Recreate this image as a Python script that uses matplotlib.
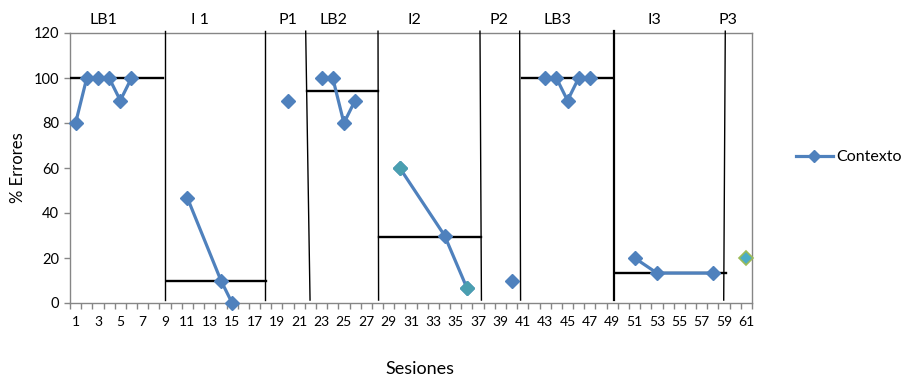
"""Single-subject design chart: % errors per session across phases."""

import matplotlib

matplotlib.use("Agg")
import matplotlib.pyplot as plt
from matplotlib.lines import Line2D

plt.rcParams["font.family"] = ["Lato", "DejaVu Sans"]

# sessions and % errors, one pair of lists per phase
lb1_x = [1, 2, 3, 4, 5, 6]
lb1_y = [80, 100, 100, 100, 90, 100]
i1_x = [11, 14, 15]
i1_y = [46.7, 10, 0]
p1_x = [20]
p1_y = [90]
lb2_x = [23, 24, 25, 26]
lb2_y = [100, 100, 80, 90]
i2_x = [30, 34, 36]
i2_y = [60, 30, 6.7]
p2_x = [40]
p2_y = [10]
lb3_x = [43, 44, 45, 46, 47]
lb3_y = [100, 100, 90, 100, 100]
i3_x = [51, 53, 58]
i3_y = [20, 13.3, 13.3]
p3_x = [61]
p3_y = [20]

phase_names = ["LB1", "I 1", "P1", "LB2", "I2", "P2", "LB3", "I3", "P3"]
phase_label_x = [3.5, 12.1, 20.0, 24.1, 31.3, 38.85, 44.1, 52.8, 59.35]

# phase change lines (bottom x, top x); the hand-drawn ones lean a little
phase_bounds = [(8.97, 8.97), (17.97, 17.97), (21.97, 21.58), (28.1, 28.05),
                (37.3, 37.17), (40.8, 40.72), (49.16, 49.16), (58.97, 59.11)]

# phase level lines: (start, end, value)
level_lines = [(0.5, 8.8, 100), (9.15, 18.03, 10), (21.67, 28.05, 94.4),
               (28.17, 37.26, 29.3), (40.96, 49.1, 100), (49.25, 59.2, 13.3)]

BLUE = "#4F81BD"
TEAL = "#4A9FB0"
GRID = "#868686"

fig = plt.figure(figsize=(9.04, 3.85), dpi=100)
ax = fig.add_axes([70 / 904, 82 / 385, 682 / 904, 270 / 385])

series = [(lb1_x, lb1_y), (i1_x, i1_y), (p1_x, p1_y), (lb2_x, lb2_y),
          (i2_x, i2_y), (p2_x, p2_y), (lb3_x, lb3_y), (i3_x, i3_y)]
for xs, ys in series:
    ax.plot(xs, ys, color=BLUE, linewidth=2.3, marker="D", markersize=7,
            markerfacecolor=BLUE, markeredgecolor=BLUE, clip_on=False, zorder=4)

# a couple of markers show a different tint in the original
ax.plot([i2_x[0], i2_x[2]], [i2_y[0], i2_y[2]], linestyle="none", marker="D",
        markersize=7, markerfacecolor=TEAL, markeredgecolor=TEAL, zorder=5)
ax.plot(p3_x, p3_y, linestyle="none", marker="D", markersize=7,
        markerfacecolor="#4BACC6", markeredgecolor="#9BBB59", markeredgewidth=1.2,
        clip_on=False, zorder=5)

for xb, xt in phase_bounds:
    lw = 1.6 if xb == 49.16 else 1.0
    ax.plot([xb, xt], [1.3, 120.8], color="black", linewidth=lw, clip_on=False, zorder=3)

for x0, x1, v in level_lines:
    ax.plot([x0, x1], [v, v], color="black", linewidth=1.7, zorder=3)

for name, lx in zip(phase_names, phase_label_x):
    ax.text(lx, 126.0, name, ha="center", va="center", fontsize=11.5)

ax.set_xlim(0.5, 61.5)
ax.set_ylim(0, 120)
ax.set_yticks(range(0, 121, 20))
ax.set_xticks(range(1, 62, 2))
ax.set_xticks([i + 0.5 for i in range(0, 62)], minor=True)
ax.tick_params(axis="x", which="major", length=0, pad=9, labelsize=10)
ax.tick_params(axis="x", which="minor", length=4, color=GRID, width=1)
ax.tick_params(axis="y", length=4, color=GRID, width=1, pad=4, labelsize=10.5)
for sp in ax.spines.values():
    sp.set_color(GRID)
    sp.set_linewidth(1.0)

ax.set_ylabel("% Errores", fontsize=12)
ax.yaxis.set_label_coords(-0.064, 0.5)
ax.set_xlabel("Sesiones", fontsize=13)
ax.xaxis.set_label_coords(0.513, -0.215)

handle = Line2D([], [], color=BLUE, linewidth=2.3, marker="D", markersize=6)
fig.legend(handles=[handle], labels=["Contexto"], loc="center left",
           bbox_to_anchor=(796 / 904, 228 / 385), frameon=False, fontsize=11.5,
           handlelength=2.3, handletextpad=0.2, borderpad=0, borderaxespad=0)

fig.savefig("out.png", dpi=100)
